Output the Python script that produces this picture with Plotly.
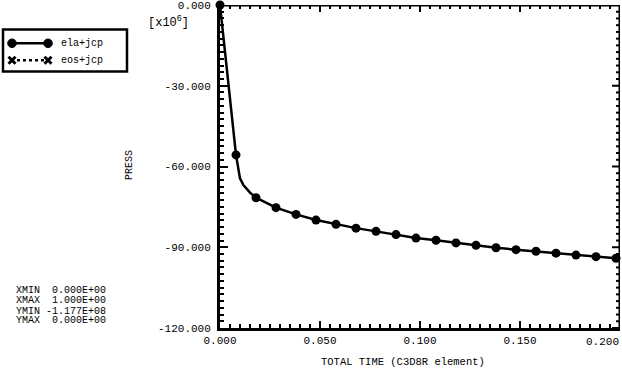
import numpy as np
import plotly.graph_objects as go

W, H = 622, 368
FONT = "Liberation Mono, Courier New, DejaVu Sans Mono, monospace"

# ---- data ----
series_names = ["ela+jcp", "eos+jcp"]
line_time = [0.0, 0.008, 0.010, 0.0117, 0.015, 0.018, 0.028, 0.038, 0.048, 0.058,
             0.068, 0.078, 0.088, 0.098, 0.108, 0.118, 0.128, 0.138, 0.148, 0.158,
             0.168, 0.178, 0.188, 0.198]
line_press = [0.0, -55.7, -64.4, -66.9, -69.7, -71.6, -75.3, -77.8, -79.9, -81.5,
              -82.9, -84.1, -85.3, -86.6, -87.4, -88.4, -89.3, -90.2, -90.9, -91.5,
              -92.2, -92.9, -93.5, -94.1]
marker_time = [0.0, 0.008, 0.018, 0.028, 0.038, 0.048, 0.058, 0.068, 0.078, 0.088,
               0.098, 0.108, 0.118, 0.128, 0.138, 0.148, 0.158, 0.168, 0.178, 0.188, 0.198]
marker_press = [0.0, -55.7, -71.6, -75.3, -77.8, -79.9, -81.5, -82.9, -84.1, -85.3,
                -86.6, -87.4, -88.4, -89.3, -90.2, -90.9, -91.5, -92.2, -92.9, -93.5, -94.1]

x_ticks = [0.0, 0.05, 0.10, 0.15, 0.20]
y_ticks = [0.0, -30.0, -60.0, -90.0, -120.0]
x_minor_step = 0.005
y_minor_step = 2.5
x_range = [0.0, 0.2]
y_range = [-120.0, 0.0]
stats_labels = ["XMIN", "XMAX", "YMIN", "YMAX"]
stats_values = [0.0, 1.0, -1.177e8, 0.0]

x_title = "TOTAL TIME (C3D8R element)"
y_title = "PRESS"
y_scale = "[x10<sup>6</sup>]"

# ---- layout helpers (pixel -> paper, margins are zero) ----
def px(x):
    return x / W

def py(y):
    return 1 - y / H

PL, PR, PT, PB = 220, 620, 5, 328   # plot area in pixels
NB = "\u00a0"
BLK = "black"

# size of one pixel in data units
dx = (x_range[1] - x_range[0]) / (PR - PL)
dy = (y_range[1] - y_range[0]) / (PB - PT)

fig = go.Figure()

# frame on the top and right sides, with inward ticks (built from the axis tick lists)
fx, fy = [x_range[0], x_range[1], x_range[1]], [y_range[1], y_range[1], y_range[0]]
fig.add_trace(go.Scatter(x=fx, y=fy, mode="lines", line=dict(color=BLK, width=3),
                         cliponaxis=False, showlegend=False, hoverinfo="skip"))
tx, ty = [], []
for v in np.arange(x_range[0], x_range[1] + 1e-9, x_minor_step):
    ln = 7 if any(abs(v - t) < 1e-9 for t in x_ticks) else 4
    tx += [float(v), float(v), None]
    ty += [y_range[1], y_range[1] - ln * dy, None]
for v in np.arange(y_range[0], y_range[1] + 1e-9, y_minor_step):
    ln = 8 if any(abs(v - t) < 1e-9 for t in y_ticks) else 4
    tx += [x_range[1], x_range[1] - ln * dx, None]
    ty += [float(v), float(v), None]
fig.add_trace(go.Scatter(x=tx, y=ty, mode="lines", line=dict(color=BLK, width=2),
                         cliponaxis=False, showlegend=False, hoverinfo="skip", connectgaps=False))

fig.add_trace(go.Scatter(x=line_time, y=line_press, mode="lines",
                         line=dict(color=BLK, width=2.5), cliponaxis=False,
                         showlegend=False, hoverinfo="skip"))
fig.add_trace(go.Scatter(x=marker_time, y=marker_press, mode="markers", name=series_names[0],
                         marker=dict(color=BLK, size=9, symbol="circle"),
                         cliponaxis=False, showlegend=False))

x_text = [f"{v:.3f}" for v in x_ticks]
y_text = [f"{v:.3f}" for v in y_ticks]
x_text_axis = x_text[:-1] + [""]   # last label placed right-aligned below

axis_common = dict(showline=True, linecolor=BLK, linewidth=3,
                   ticks="inside", tickcolor=BLK, tickwidth=2, showgrid=False,
                   zeroline=False, automargin=False, fixedrange=True,
                   tickfont=dict(family=FONT, size=11, color=BLK))
xminor = dict(ticks="inside", ticklen=4, tickwidth=2, tickcolor=BLK, dtick=x_minor_step, tick0=0)
yminor = dict(ticks="inside", ticklen=4, tickwidth=2, tickcolor=BLK, dtick=y_minor_step, tick0=0)

fig.update_layout(
    width=W, height=H,
    template="none",
    margin=dict(l=0, r=0, t=0, b=0, autoexpand=False),
    paper_bgcolor="white", plot_bgcolor="white",
    font=dict(family=FONT, color=BLK, size=11),
    xaxis=dict(domain=[px(PL), px(PR)], range=x_range, tickvals=x_ticks, ticktext=x_text_axis,
               ticklen=7, minor=xminor, **axis_common),
    yaxis=dict(domain=[py(PB), py(PT)], range=y_range, tickvals=y_ticks, ticktext=y_text,
               ticklen=8, ticklabelstandoff=4, ticklabeloverflow="allow", minor=yminor,
               **axis_common),
)

ann = []
ann.append(dict(text=x_text[-1], x=x_range[1], y=py(341.5), xref="x", yref="paper",
                showarrow=False, xanchor="right", yanchor="middle", xshift=1,
                font=dict(family=FONT, size=11, color=BLK)))
ann.append(dict(text=x_title, x=px(403), y=py(361.5), xref="paper", yref="paper",
                showarrow=False, xanchor="center", yanchor="middle",
                font=dict(family=FONT, size=10.5, color=BLK)))
ann.append(dict(text=y_title, x=px(129), y=py(165), xref="paper", yref="paper",
                showarrow=False, textangle=-90, xanchor="center", yanchor="middle",
                font=dict(family=FONT, size=10, color=BLK)))
ann.append(dict(text=y_scale, x=px(146), y=py(22), xref="paper", yref="paper",
                showarrow=False, xanchor="left", yanchor="middle",
                font=dict(family=FONT, size=12, color=BLK)))

stat_y = [290.7, 300.7, 311.7, 320.7]
for lab, val, yy in zip(stats_labels, stats_values, stat_y):
    txt = (lab + " " + f"{val: .3E}").replace(" ", NB)
    ann.append(dict(text=txt, x=px(14), y=py(yy), xref="paper", yref="paper",
                    showarrow=False, xanchor="left", yanchor="middle",
                    font=dict(family=FONT, size=10, color=BLK)))

# legend (decoration)
leg_rows = [43.3, 60.3]
for name, yy in zip(series_names, leg_rows):
    ann.append(dict(text=name, x=px(59), y=py(yy), xref="paper", yref="paper",
                    showarrow=False, xanchor="left", yanchor="middle",
                    font=dict(family=FONT, size=10, color=BLK)))

shapes = []
shapes.append(dict(type="rect", xref="paper", yref="paper",
                   x0=px(3), x1=px(127), y0=py(71.5), y1=py(29.5),
                   line=dict(color=BLK, width=2.5)))
shapes.append(dict(type="line", xref="paper", yref="paper",
                   x0=px(12), x1=px(48), y0=py(leg_rows[0]), y1=py(leg_rows[0]),
                   line=dict(color=BLK, width=2.5)))
for cx in (12, 48):
    r = 4.3
    shapes.append(dict(type="circle", xref="paper", yref="paper",
                       x0=px(cx - r), x1=px(cx + r), y0=py(leg_rows[0] + r), y1=py(leg_rows[0] - r),
                       fillcolor=BLK, line=dict(color=BLK, width=1)))
shapes.append(dict(type="line", xref="paper", yref="paper",
                   x0=px(17), x1=px(44), y0=py(leg_rows[1]), y1=py(leg_rows[1]),
                   line=dict(color=BLK, width=2.5, dash="dot")))
for cx in (12, 48):
    d = 3.5
    for s in (1, -1):
        shapes.append(dict(type="line", xref="paper", yref="paper",
                           x0=px(cx - d), x1=px(cx + d),
                           y0=py(leg_rows[1] - s * d), y1=py(leg_rows[1] + s * d),
                           line=dict(color=BLK, width=3)))

fig.update_layout(annotations=ann, shapes=shapes)
fig.write_html("out.html", config={"displayModeBar": False},
               post_script="document.body.style.margin='0px';")
